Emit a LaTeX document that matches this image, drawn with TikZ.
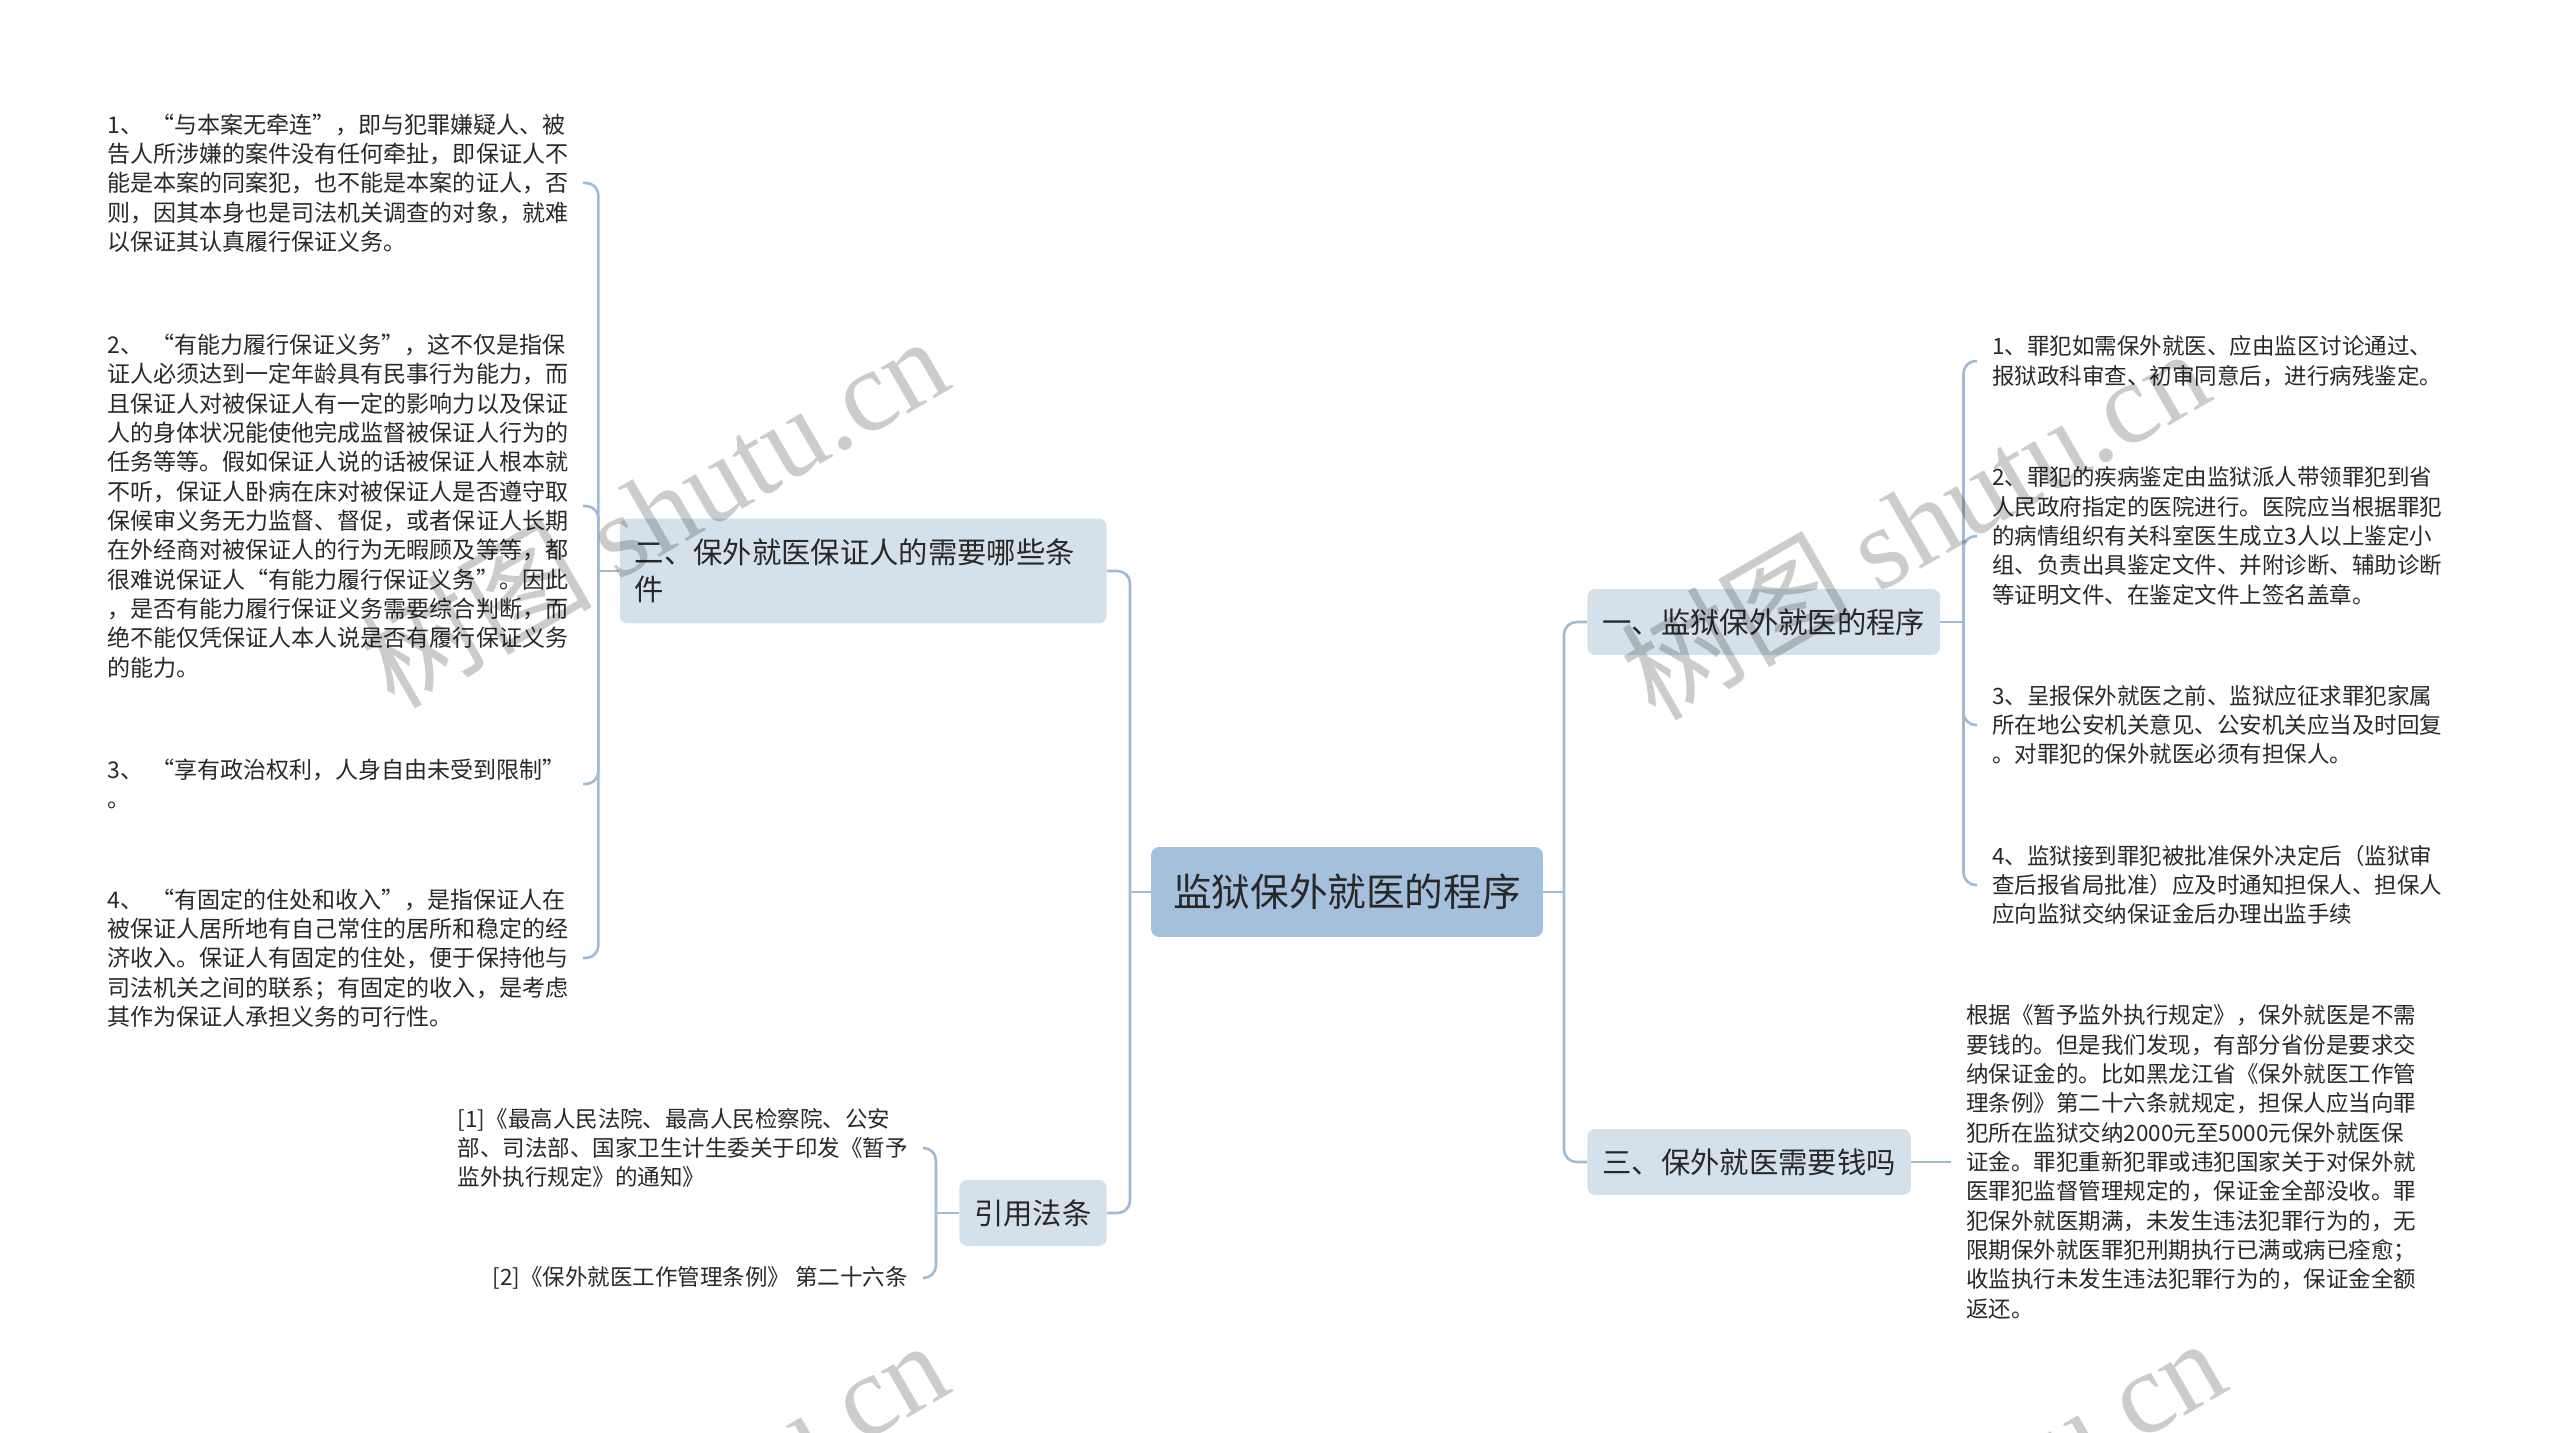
\documentclass[tikz,border=0pt]{standalone}
\usepackage{fontspec}
\setmainfont{Noto Sans CJK SC}
\newfontfamily\wmserif{Liberation Serif}
\definecolor{linecol}{RGB}{160,187,211}
\definecolor{rootfill}{RGB}{164,192,220}
\definecolor{subfill}{RGB}{213,225,234}
\definecolor{txtcol}{RGB}{40,40,40}

\begin{document}
\begin{tikzpicture}[x=0.02cm, y=-0.02cm,
  link/.style={draw=linecol, line width=1.5pt, rounded corners=0.25cm},
  rootbox/.style={fill=rootfill, rounded corners=0.16cm, minimum width=7.84cm, minimum height=1.8cm, inner xsep=0.4cm, font=\fontsize{22pt}{26pt}\selectfont, text=txtcol},
  sub/.style={fill=subfill, rounded corners=0.16cm, minimum height=1.32cm, inner xsep=0.3cm, align=left, font=\fontsize{16.7pt}{21.3pt}\selectfont, text=txtcol},
  leaf/.style={inner xsep=0.3cm, inner ysep=0pt, align=left, font=\fontsize{12.8pt}{16.7pt}\selectfont, text=txtcol},
  leftleaf/.style={leaf, anchor=east, text width=9.2cm, font=\fontsize{13.1pt}{16.7pt}\selectfont},
  wmark/.style={rotate=30, text=black, opacity=0.2, font=\fontsize{66pt}{66pt}\selectfont}]

\useasboundingbox (0,0) rectangle (2560,1433);

% 中心主题
\node[rootbox] (root) at (1347, 892) {监狱保外就医的程序};

% 分支主题
\node[sub, anchor=east, text width=9.14cm, minimum height=2.1cm] (cond) at (1107, 571) {二、保外就医保证人的需要哪些条\\件};
\node[sub, anchor=east] (cite) at (1107, 1213) {引用法条};
\node[sub, anchor=west] (proc) at (1587, 622) {一、监狱保外就医的程序};
\node[sub, anchor=west] (cost) at (1587, 1162) {三、保外就医需要钱吗};

% 左侧：保证人条件
\node[leftleaf] (c1) at (583, 183) {1、~“与本案无牵连”，即与犯罪嫌疑人、被\\告人所涉嫌的案件没有任何牵扯，即保证人不\\能是本案的同案犯，也不能是本案的证人，否\\则，因其本身也是司法机关调查的对象，就难\\以保证其认真履行保证义务。};
\node[leftleaf] (c2) at (583, 506) {2、~“有能力履行保证义务”，这不仅是指保\\证人必须达到一定年龄具有民事行为能力，而\\且保证人对被保证人有一定的影响力以及保证\\人的身体状况能使他完成监督被保证人行为的\\任务等等。假如保证人说的话被保证人根本就\\不听，保证人卧病在床对被保证人是否遵守取\\保候审义务无力监督、督促，或者保证人长期\\在外经商对被保证人的行为无暇顾及等等，都\\很难说保证人“有能力履行保证义务”。因此\\，是否有能力履行保证义务需要综合判断，而\\绝不能仅凭保证人本人说是否有履行保证义务\\的能力。};
\node[leftleaf] (c3) at (583, 784) {3、~“享有政治权利，人身自由未受到限制”\\。};
\node[leftleaf] (c4) at (583, 958) {4、~“有固定的住处和收入”，是指保证人在\\被保证人居所地有自己常住的居所和稳定的经\\济收入。保证人有固定的住处，便于保持他与\\司法机关之间的联系；有固定的收入，是考虑\\其作为保证人承担义务的可行性。};

% 左侧：引用法条
\node[leaf, anchor=east] (r1) at (923, 1148) {[1]《最高人民法院、最高人民检察院、公安\\部、司法部、国家卫生计生委关于印发《暂予\\监外执行规定》的通知》};
\node[leaf, anchor=east] (r2) at (923, 1278) {[2]《保外就医工作管理条例》~第二十六条};

% 右侧：程序
\node[leaf, anchor=west] (p1) at (1977, 361) {1、罪犯如需保外就医、应由监区讨论通过、\\报狱政科审查、初审同意后，进行病残鉴定。};
\node[leaf, anchor=west] (p2) at (1977, 536) {2、罪犯的疾病鉴定由监狱派人带领罪犯到省\\人民政府指定的医院进行。医院应当根据罪犯\\的病情组织有关科室医生成立3人以上鉴定小\\组、负责出具鉴定文件、并附诊断、辅助诊断\\等证明文件、在鉴定文件上签名盖章。};
\node[leaf, anchor=west] (p3) at (1977, 725) {3、呈报保外就医之前、监狱应征求罪犯家属\\所在地公安机关意见、公安机关应当及时回复\\。对罪犯的保外就医必须有担保人。};
\node[leaf, anchor=west] (p4) at (1977, 885) {4、监狱接到罪犯被批准保外决定后（监狱审\\查后报省局批准）应及时通知担保人、担保人\\应向监狱交纳保证金后办理出监手续};

% 右侧：费用
\node[leaf, anchor=west] (m1) at (1951, 1162) {根据《暂予监外执行规定》，保外就医是不需\\要钱的。但是我们发现，有部分省份是要求交\\纳保证金的。比如黑龙江省《保外就医工作管\\理条例》第二十六条就规定，担保人应当向罪\\犯所在监狱交纳2000元至5000元保外就医保\\证金。罪犯重新犯罪或违犯国家关于对保外就\\医罪犯监督管理规定的，保证金全部没收。罪\\犯保外就医期满，未发生违法犯罪行为的，无\\限期保外就医罪犯刑期执行已满或病已痊愈；\\收监执行未发生违法犯罪行为的，保证金全额\\返还。};

% 主干连线
\coordinate (lbus) at (1130, 892);
\coordinate (rbus) at (1564, 892);
\draw[link] (root.west) -- (lbus);
\draw[link] (lbus) |- (cond.east);
\draw[link] (lbus) |- (cite.east);
\draw[link] (root.east) -- (rbus);
\draw[link] (rbus) |- (proc.west);
\draw[link] (rbus) |- (cost.west);

% 分支连线
\draw[link] (cond.west) -- ++(-21,0) coordinate (cbus);
\draw[link] (cbus) |- (c1.east);
\draw[link] (cbus) |- (c2.east);
\draw[link] (cbus) |- (c3.east);
\draw[link] (cbus) |- (c4.east);

\draw[link] (cite.west) -- ++(-23,0) coordinate (ebus);
\draw[link] (ebus) |- (r1.east);
\draw[link] (ebus) |- (r2.east);

\draw[link] (proc.east) -- ++(23,0) coordinate (pbus);
\draw[link] (pbus) |- (p1.west);
\draw[link] (pbus) |- (p2.west);
\draw[link] (pbus) |- (p3.west);
\draw[link] (pbus) |- (p4.west);

\draw[link] (cost.east) -- (m1.west);

% 水印
\begin{scope}
  \clip (0,0) rectangle (2560,1433);
  \node[wmark] (wm1) at (653, 510) {树图 {\wmserif shutu.cn}};
  \node[wmark] (wm2) at (1914, 522) {树图 {\wmserif shutu.cn}};
  \node[wmark] (wm3) at (653, 1514) {树图 {\wmserif shutu.cn}};
  \node[wmark] (wm4) at (1930, 1512) {树图 {\wmserif shutu.cn}};
\end{scope}
\end{tikzpicture}
\end{document}
